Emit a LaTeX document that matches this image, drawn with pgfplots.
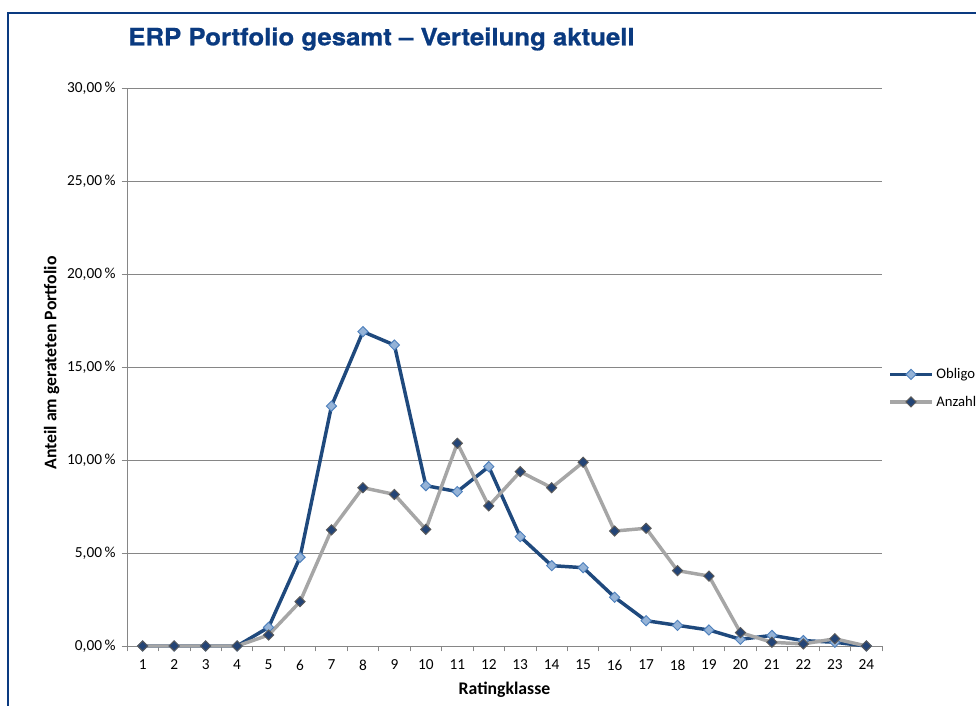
\documentclass[border=0pt]{standalone}
\usepackage{fontspec}
\setmainfont{Carlito}
\newfontfamily\titlefont[FakeStretch=1.08,BoldFeatures={FakeBold=0.8}]{TeX Gyre Heros}
\usepackage{pgfplots}
\pgfplotsset{compat=1.18}
\definecolor{frameblue}{RGB}{10,58,128}
\definecolor{oblline}{RGB}{31,73,125}
\definecolor{oblfill}{RGB}{149,179,215}
\definecolor{obldraw}{RGB}{79,129,189}
\definecolor{anzline}{RGB}{166,166,166}
\definecolor{anzfill}{RGB}{35,68,118}
\definecolor{anzdraw}{RGB}{90,90,90}
\definecolor{gridc}{RGB}{134,134,134}
\begin{document}
\begin{tikzpicture}
\path[use as bounding box] (0,0) rectangle (732pt,529.5pt);
\draw[frameblue,line width=2.2pt] (6pt,0) -- (6pt,519.75pt) -- (733pt,519.75pt);
\node[anchor=base west,text=frameblue,font=\titlefont\bfseries\fontsize{17.9}{20}\selectfont,inner sep=0pt] at (96pt,495.5pt) {ERP Portfolio gesamt – Verteilung aktuell};
\begin{axis}[
  at={(95.25pt,45pt)}, anchor=south west,
  width=566.25pt, height=418.5pt, scale only axis,
  xmin=0.5, xmax=24.5, ymin=0, ymax=30,
  axis x line*=bottom, axis y line*=left,
  axis line style={gridc, line width=0.6pt, -},
  xtick={1,...,24},
  major x tick style={draw=none},
  minor xtick={0.5,1.5,...,24.5},
  minor x tick style={gridc, line width=0.6pt},
  minor tick length=4pt,
  ytick={0,5,...,30},
  yticklabels={{0,00\,\%},{5,00\,\%},{10,00\,\%},{15,00\,\%},{20,00\,\%},{25,00\,\%},{30,00\,\%}},
  y tick style={gridc, line width=0.6pt},
  major tick length=4pt,
  tick align=outside,
  ymajorgrids, grid style={gridc, line width=0.6pt},
  /pgf/number format/assume math mode=true,
  tick label style={font=\fontsize{11.5}{13}\selectfont, text=black},
  xticklabel style={yshift=-3pt},
  yticklabel style={xshift=-1pt},
  xlabel={\bfseries Ratingklasse},
  ylabel={\bfseries Anteil am gerateten Portfolio},
  label style={font=\fontsize{13.3}{15}\selectfont},
  xlabel style={yshift=-2pt},
  ylabel style={yshift=-1pt, xshift=3pt},
  clip=false,
  legend style={at={(1,0.462)}, anchor=west, xshift=4.5pt, draw=none, fill=none,
    font=\fontsize{11}{13}\selectfont, row sep=7.5pt, inner sep=0pt,
    /tikz/every even column/.append style={column sep=0pt}},
  legend cell align=left,
  legend image code/.code={\draw[mark repeat=2,mark phase=2] plot coordinates {(0pt,0pt)(15.75pt,0pt)(31.5pt,0pt)};},
]
\addplot[oblline, line width=2.6pt, mark=square*, mark size=2.7pt,
  mark options={rotate=45, fill=oblfill, draw=obldraw, line width=0.7pt}]
  coordinates {
  (1,0)(2,0)(3,0)(4,0)(5,1.0)(6,4.77)(7,12.9)(8,16.9)(9,16.18)(10,8.62)
  (11,8.30)(12,9.64)(13,5.88)(14,4.32)(15,4.21)(16,2.62)(17,1.36)(18,1.11)
  (19,0.86)(20,0.36)(21,0.57)(22,0.29)(23,0.20)(24,0)};
\addlegendentry{Obligo}
\addplot[anzline, line width=2.6pt, mark=square*, mark size=2.7pt,
  mark options={rotate=45, fill=anzfill, draw=anzdraw, line width=0.7pt}]
  coordinates {
  (1,0)(2,0)(3,0)(4,0)(5,0.59)(6,2.38)(7,6.24)(8,8.51)(9,8.15)(10,6.27)
  (11,10.9)(12,7.53)(13,9.37)(14,8.51)(15,9.88)(16,6.18)(17,6.33)(18,4.05)
  (19,3.76)(20,0.72)(21,0.20)(22,0.11)(23,0.39)(24,0)};
\addlegendentry{Anzahl}
\end{axis}
\end{tikzpicture}
\end{document}
